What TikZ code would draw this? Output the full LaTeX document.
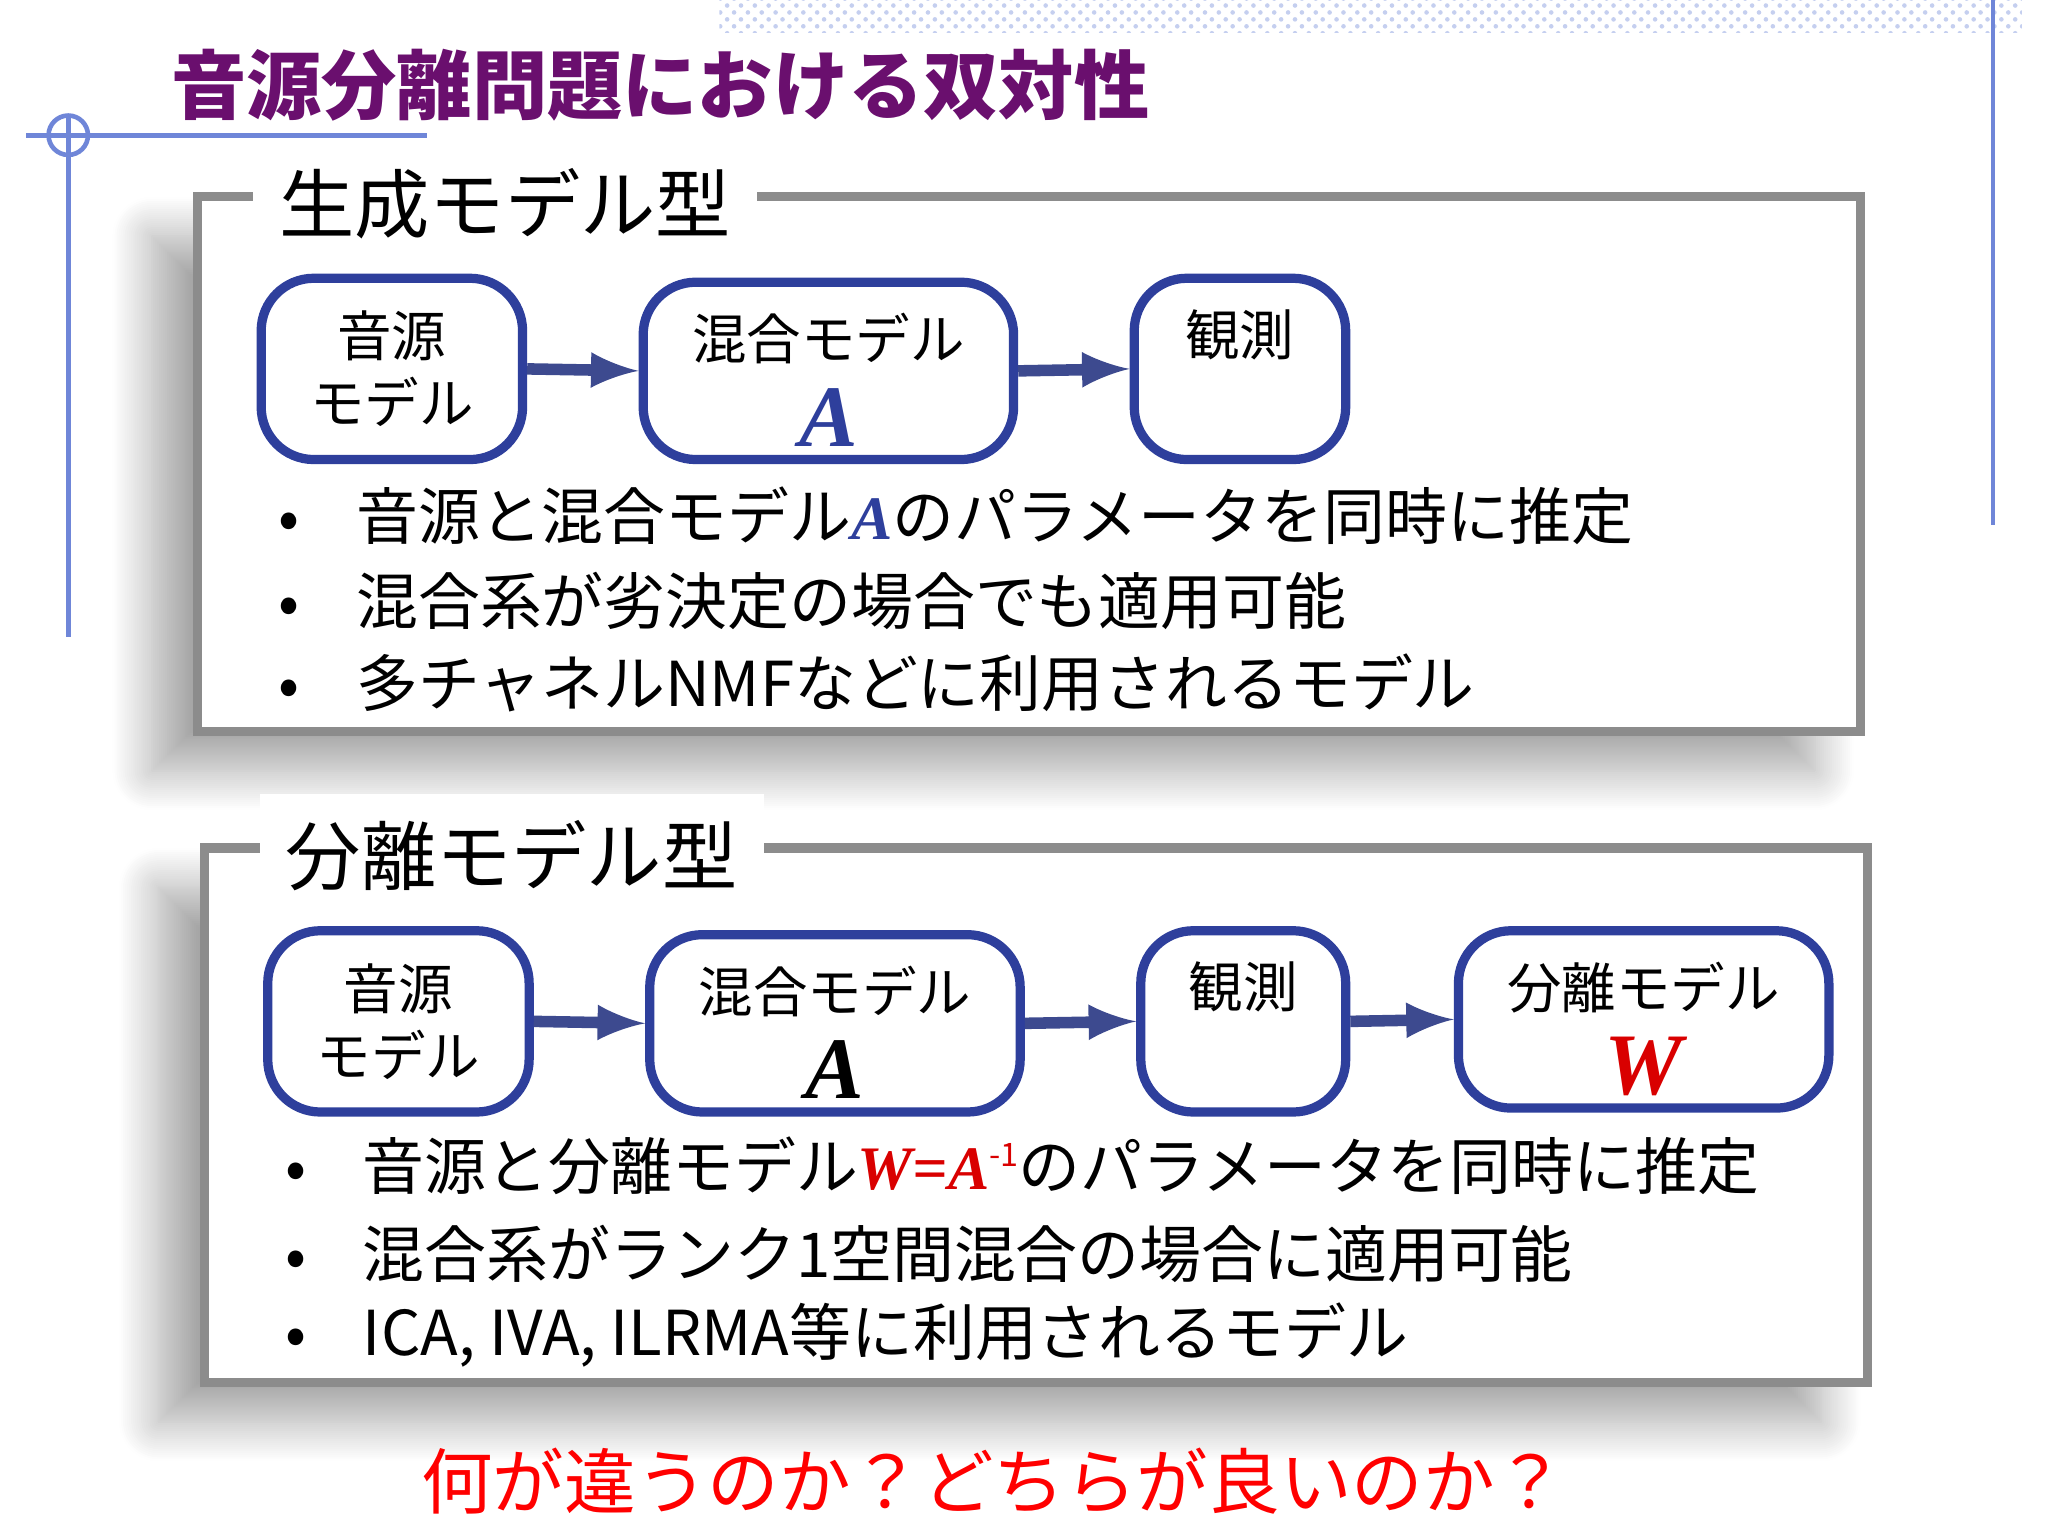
\documentclass[tikz,border=0pt]{standalone}
\usepackage{fontspec}
\setmainfont{Noto Sans CJK JP}
\newfontfamily\mathserif{Liberation Serif}
\usetikzlibrary{shadows.blur,patterns}
\definecolor{boxblue}{HTML}{2E3F9C}
\definecolor{arrowblue}{HTML}{3D4A8F}
\definecolor{titlepurple}{HTML}{6A0F6E}
\definecolor{decoblue}{HTML}{6F86D8}
\tikzset{
  panel/.style={draw=black!45,line width=2pt,fill=white,
    blur shadow={shadow xshift=-3.5mm,shadow yshift=-3mm,shadow blur steps=20,shadow blur radius=3mm,shadow opacity=35}},
  paneltitle/.style={fill=white,anchor=west,inner sep=2mm,font=\fontsize{16.3}{20}\selectfont},
  box/.style={draw=boxblue,line width=2pt,rounded corners=4mm,fill=white},
  boxtext/.style={align=center,font=\fontsize{11.8}{14.5}\selectfont},
  flow/.style={->,>=latex,draw=arrowblue,line width=2.5pt},
  bullet/.style={anchor=west,font=\fontsize{13.4}{16}\selectfont},
  sym/.style={font=\mathserif\bfseries\itshape\fontsize{19}{20}\selectfont}
}
\begin{document}
\begin{tikzpicture}[x=0.01cm,y=-0.01cm]
\useasboundingbox (0,0) rectangle (1560,1170);

% decoration
\fill[pattern=crosshatch dots,pattern color=decoblue!40] (548,0) rectangle (1540,25);
\draw[decoblue,line width=1pt] (20,103) -- (325,103);
\draw[decoblue,line width=1pt] (52,88) -- (52,485);
\draw[decoblue,line width=1pt] (52,103) circle (15);
\draw[decoblue,line width=1pt] (1518,0) -- (1518,400);
\node (title) [anchor=west,text=titlepurple,font=\fontsize{16.3}{20}\selectfont\bfseries] at (118,65) {音源分離問題における双対性};

% generative model
\node (gen) [panel,minimum width=12.66cm,minimum height=4.07cm] at (784,353.5) {};
\node (gentitle) [paneltitle] at (192,155) {生成モデル型};
\node (src1) [box,minimum width=1.99cm,minimum height=1.38cm,boxtext] at (298.5,281) {音源\\モデル};
\node (mix1) [box,minimum width=2.82cm,minimum height=1.35cm] at (631,282.5) {};
\node (mix1t) [boxtext] at (631,258) {混合モデル};
\node (mix1a) [sym,text=boxblue] at (631,318) {A};
\node (obs1) [box,minimum width=1.61cm,minimum height=1.38cm] at (944.5,281) {};
\node (obs1t) [boxtext] at (944.5,255) {観測};
\draw[flow] (src1.east) -- (mix1.west);
\draw[flow] (mix1.east) -- (obs1.west);
\node (g1) [bullet] at (200,393) {•\hspace{4.3mm}音源と混合モデル{\mathserif\bfseries\itshape\color{boxblue}A}のパラメータを同時に推定};
\node (g2) [bullet] at (200,458) {•\hspace{4.3mm}混合系が劣決定の場合でも適用可能};
\node (g3) [bullet] at (200,520) {•\hspace{4.3mm}多チャネルNMFなどに利用されるモデル};

% separation model
\node (sep) [panel,minimum width=12.66cm,minimum height=4.07cm] at (789,849.5) {};
\node (septitle) [paneltitle] at (197,652) {分離モデル型};
\node (src2) [box,minimum width=1.99cm,minimum height=1.38cm,boxtext] at (303.5,778) {音源\\モデル};
\node (mix2) [box,minimum width=2.82cm,minimum height=1.35cm] at (636,779.5) {};
\node (mix2t) [boxtext] at (636,755) {混合モデル};
\node (mix2a) [sym] at (636,815) {A};
\node (obs2) [box,minimum width=1.56cm,minimum height=1.38cm] at (947,778) {};
\node (obs2t) [boxtext] at (947,752) {観測};
\node (dem2) [box,minimum width=2.82cm,minimum height=1.35cm] at (1252,776.5) {};
\node (dem2t) [boxtext] at (1252,752) {分離モデル};
\node (dem2w) [sym,text=red!85!black] at (1252,812) {W};
\draw[flow] (src2.east) -- (mix2.west);
\draw[flow] (mix2.east) -- (obs2.west);
\draw[flow] (obs2.east) -- (dem2.west);
\node (s1) [bullet] at (205,888) {•\hspace{4.3mm}音源と分離モデル{\mathserif\bfseries\itshape\color{red!85!black}W=A\raisebox{0.8ex}{\normalfont\scriptsize -1}}のパラメータを同時に推定};
\node (s2) [bullet] at (205,955) {•\hspace{4.3mm}混合系がランク1空間混合の場合に適用可能};
\node (s3) [bullet] at (205,1017) {•\hspace{4.3mm}ICA, IVA, ILRMA等に利用されるモデル};

\node (question) [text=red,font=\fontsize{15.5}{20}\selectfont] at (757,1128) {何が違うのか？どちらが良いのか？};
\end{tikzpicture}
\end{document}
